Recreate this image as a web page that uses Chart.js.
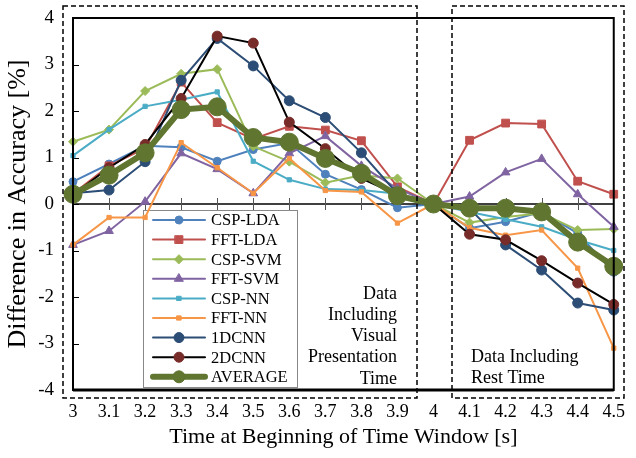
<!DOCTYPE html>
<html>
<head>
<meta charset="utf-8">
<script src="https://cdn.jsdelivr.net/npm/chart.js@4.4.1/dist/chart.umd.min.js"></script>
<style>
  html, body { margin: 0; padding: 0; background: #fff; }
  canvas { display: block; }
</style>
</head>
<body>
<canvas id="myChart" width="636" height="458"></canvas>
<script>
const timeLabels = ['3', '3.1', '3.2', '3.3', '3.4', '3.5', '3.6', '3.7', '3.8', '3.9', '4', '4.1', '4.2', '4.3', '4.4', '4.5'];

const cspLda = [0.48, 0.86, 1.25, 1.22, 0.92, 1.17, 1.31, 0.64, 0.31, -0.08, 0, -0.52, -0.38, -0.17, -0.63, -1.47];
const fftLda = [0.22, 0.82, 1.2, 2.62, 1.75, 1.4, 1.67, 1.59, 1.36, 0.37, 0, 1.37, 1.74, 1.72, 0.49, 0.21];
const cspSvm = [1.34, 1.6, 2.43, 2.8, 2.9, 1.24, 0.91, 0.46, 0.62, 0.55, 0, -0.4, -0.28, -0.2, -0.56, -0.54];
const fftSvm = [-0.88, -0.58, 0.05, 1.09, 0.75, 0.23, 1.09, 1.46, 0.82, 0.33, 0, 0.16, 0.68, 0.97, 0.21, -0.49];
const cspNn = [1.04, 1.6, 2.1, 2.24, 2.41, 0.92, 0.52, 0.32, 0.3, 0.22, 0, -0.17, -0.33, -0.49, -0.77, -1.0];
const fftNn = [-0.88, -0.29, -0.29, 1.32, 0.78, 0.23, 0.98, 0.29, 0.26, -0.41, 0, -0.51, -0.67, -0.56, -1.38, -3.1];
const cnn1d = [0.23, 0.3, 0.91, 2.66, 3.56, 2.97, 2.22, 1.86, 1.1, 0.22, 0, -0.1, -0.88, -1.42, -2.13, -2.28];
const cnn2d = [0.2, 0.78, 1.28, 2.27, 3.61, 3.46, 1.76, 1.19, 0.55, 0.2, 0, -0.65, -0.77, -1.22, -1.7, -2.16];
const average = [0.21, 0.62, 1.1, 2.03, 2.09, 1.43, 1.33, 0.98, 0.66, 0.18, 0, -0.09, -0.09, -0.17, -0.82, -1.34];

const SERIF = "'Liberation Serif', 'Times New Roman', serif";

function series(label, data, color, style, radius, extra) {
  return Object.assign({
    label: label,
    data: data,
    borderColor: color,
    backgroundColor: color,
    pointBorderColor: color,
    pointBackgroundColor: color,
    pointStyle: style,
    pointRadius: radius,
    pointBorderWidth: 1,
    borderWidth: 2,
    tension: 0,
    fill: false,
  }, extra || {});
}

const datasets = [
  series('CSP-LDA', cspLda, '#4F81BD', 'circle', 4),
  series('FFT-LDA', fftLda, '#C0504D', 'rect', 5.5),
  series('CSP-SVM', cspSvm, '#9BBB59', 'rectRot', 4.5),
  series('FFT-SVM', fftSvm, '#8064A2', 'triangle', 5),
  series('CSP-NN', cspNn, '#4BACC6', 'rect', 3),
  series('FFT-NN', fftNn, '#F79646', 'rect', 3),
  series('1DCNN', cnn1d, '#2C4D75', 'circle', 5),
  series('2DCNN', cnn2d, '#000000', 'circle', 5, { pointBorderColor: '#772C2A', pointBackgroundColor: '#772C2A' }),
  series('AVERAGE', average, '#5F7530', 'circle', 9, { borderWidth: 6 }),
];
// later series drawn on top, like the spreadsheet
datasets.forEach((ds, i) => { ds.order = datasets.length - i; });

// frame, zero axis, dashed boxes, legend and notes
const decorations = {
  id: 'decorations',
  beforeDatasetsDraw(chart) {
    const { ctx, chartArea: a, scales: { x, y } } = chart;
    const y0 = y.getPixelForValue(0);
    ctx.save();
    // zero axis with crossing ticks
    ctx.strokeStyle = '#000';
    ctx.lineWidth = 1.5;
    ctx.beginPath();
    ctx.moveTo(a.left, y0);
    ctx.lineTo(a.right, y0);
    ctx.stroke();
    ctx.strokeStyle = '#555';
    ctx.lineWidth = 1;
    for (let i = 1; i < timeLabels.length - 1; i++) {
      const px = Math.round(x.getPixelForValue(i)) + 0.5;
      ctx.beginPath();
      ctx.moveTo(px, y0 - 6);
      ctx.lineTo(px, y0 + 6);
      ctx.stroke();
    }
    // inward ticks on the left axis
    ctx.strokeStyle = '#000';
    for (let v = -3; v <= 3; v++) {
      const py = Math.round(y.getPixelForValue(v)) + 0.5;
      ctx.beginPath();
      ctx.moveTo(a.left, py);
      ctx.lineTo(a.left + 6, py);
      ctx.stroke();
    }

    // legend box
    const lx = 143, ly = 210, lw = 154, lh = 177;
    ctx.fillStyle = '#fff';
    ctx.fillRect(lx, ly, lw, lh);
    ctx.strokeStyle = '#888';
    ctx.lineWidth = 1;
    ctx.strokeRect(lx + 0.5, ly + 0.5, lw, lh);
    ctx.font = '16.5px ' + SERIF;
    ctx.textBaseline = 'middle';
    ctx.textAlign = 'left';
    chart.data.datasets.forEach((ds, i) => {
      const cy = ly + 10 + i * 19.6;
      ctx.strokeStyle = ds.borderColor;
      ctx.lineWidth = ds.borderWidth;
      ctx.lineCap = 'round';
      ctx.beginPath();
      ctx.moveTo(lx + 10, cy);
      ctx.lineTo(lx + 62, cy);
      ctx.stroke();
      ctx.fillStyle = ds.pointBackgroundColor;
      ctx.strokeStyle = ds.pointBorderColor;
      ctx.lineWidth = 1;
      Chart.helpers.drawPoint(ctx, { pointStyle: ds.pointStyle, radius: Math.min(ds.pointRadius, 6), borderWidth: 1 }, lx + 36, cy);
      ctx.fillStyle = '#000';
      ctx.fillText(ds.label, lx + 68, cy + 1);
    });
    ctx.restore();
  },
  afterDraw(chart) {
    const { ctx, chartArea: a } = chart;
    ctx.save();
    // plot frame
    ctx.strokeStyle = '#000';
    ctx.lineWidth = 2;
    ctx.strokeRect(a.left, a.top, a.right - a.left, a.bottom - a.top);
    ctx.lineWidth = 3;
    ctx.beginPath();
    ctx.moveTo(a.left, a.bottom);
    ctx.lineTo(a.right, a.bottom);
    ctx.stroke();

    // dashed region boxes
    ctx.lineWidth = 1.5;
    ctx.setLineDash([5, 3]);
    ctx.strokeRect(63, 6, 354, 392);
    ctx.strokeRect(452, 6, 172, 392);
    ctx.setLineDash([]);

    // notes
    ctx.fillStyle = '#000';
    ctx.font = '18px ' + SERIF;
    ctx.textBaseline = 'middle';
    ctx.textAlign = 'right';
    ['Data', 'Including', 'Visual', 'Presentation', 'Time'].forEach((t, i) => {
      ctx.fillText(t, 397, 294 + i * 21.2);
    });
    ctx.textAlign = 'left';
    ctx.fillText('Data Including', 471, 357);
    ctx.fillText('Rest Time', 471, 378);
    ctx.restore();
  },
};

const ctx = document.getElementById('myChart').getContext('2d');

const myChart = new Chart(ctx, {
  type: 'line',
  data: {
    labels: timeLabels,
    datasets: datasets,
  },
  options: {
    responsive: false,
    devicePixelRatio: 1,
    animation: false,
    layout: { padding: { left: 0, top: 18, right: 14, bottom: 0 } },
    plugins: {
      legend: { display: false },
      tooltip: { enabled: false },
    },
    scales: {
      x: {
        type: 'category',
        offset: false,
        grid: { display: false, drawTicks: false },
        border: { display: false },
        ticks: {
          color: '#000',
          font: { family: SERIF, size: 18 },
          padding: 11,
          autoSkip: false,
          maxRotation: 0,
        },
        title: {
          display: true,
          text: 'Time at Beginning of Time Window [s]',
          color: '#000',
          font: { family: SERIF, size: 22 },
          padding: { top: 0, bottom: 8 },
        },
        afterFit(scale) { scale.height = 68; },
      },
      y: {
        min: -4,
        max: 4,
        grid: { display: false, drawTicks: false },
        border: { display: false },
        ticks: {
          stepSize: 1,
          color: '#000',
          font: { family: SERIF, size: 19 },
          padding: 19,
        },
        title: {
          display: true,
          text: 'Difference in Accuracy [%]',
          color: '#000',
          font: { family: SERIF, size: 26 },
          padding: { top: 3, bottom: 0 },
        },
        afterFit(scale) {
          scale.width = 73;
          scale.paddingTop = 0;
          scale.paddingBottom = 0;
        },
      },
    },
  },
  plugins: [decorations],
});
</script>
</body>
</html>
